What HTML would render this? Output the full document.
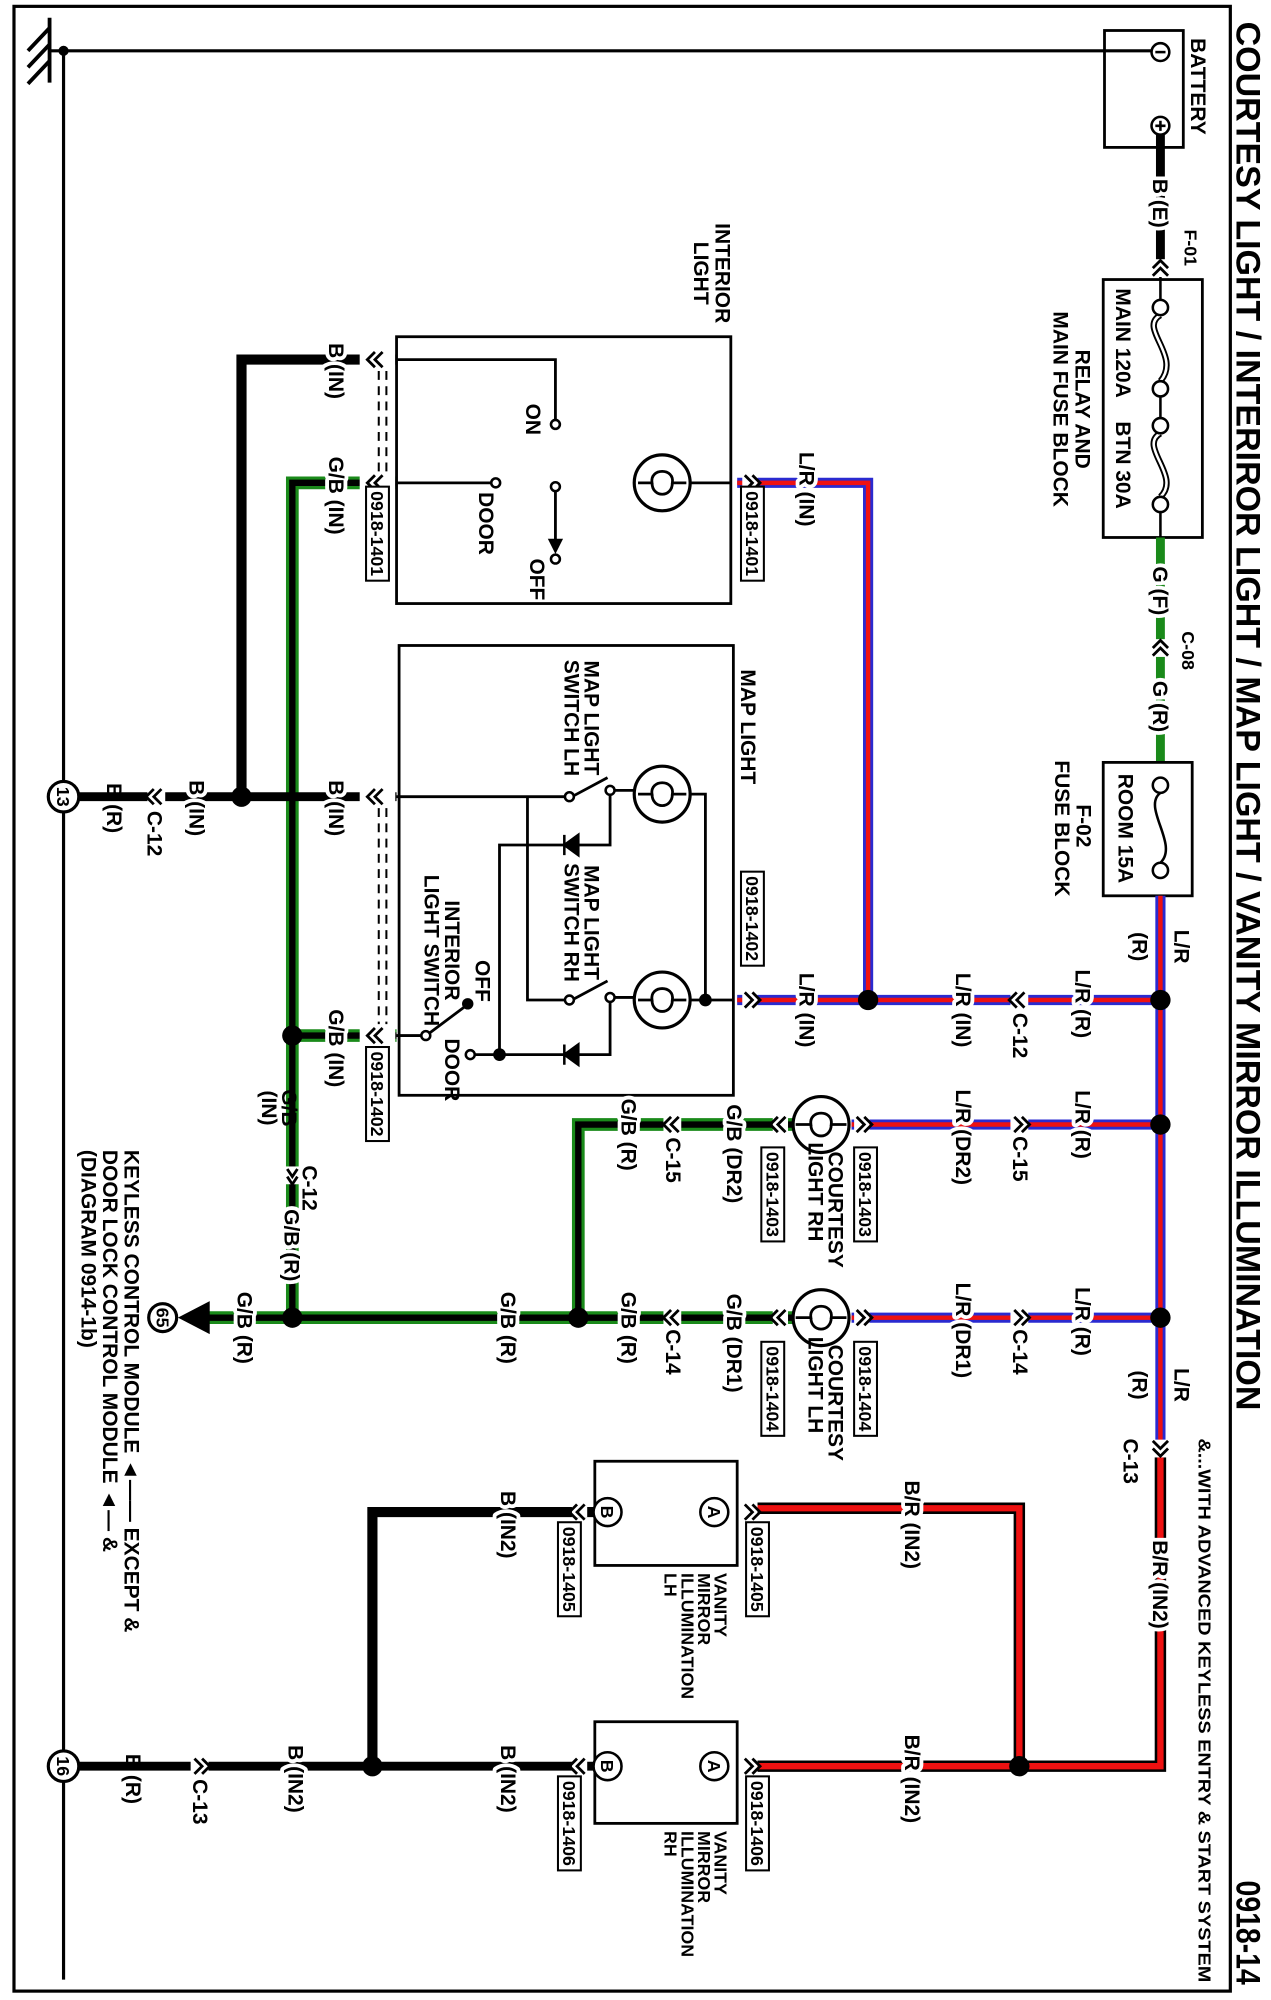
<!DOCTYPE html>
<html><head><meta charset="utf-8"><style>
html,body{margin:0;padding:0;background:#fff;}
svg{display:block;}
.t{font-family:"Liberation Sans",sans-serif;font-weight:bold;font-size:16.5px;fill:#000;}
.h{stroke:#fff;stroke-width:6px;paint-order:stroke;stroke-linejoin:round;}
.s{font-size:14px;}
.k{fill:none;stroke:#000;stroke-width:2.2;}
</style></head><body>
<svg width="1271" height="2000" viewBox="0 0 1000 1574" preserveAspectRatio="none" xmlns="http://www.w3.org/2000/svg">
<rect x="11" y="5" width="957" height="1562" fill="none" stroke="#000" stroke-width="2.5"/>
<!-- ground -->
<line x1="39" y1="14" x2="39" y2="65" stroke="#000" stroke-width="3"/>
<path d="M39,22 L22,40 M39,35 L22,53 M39,48 L22,66" stroke="#000" stroke-width="3"/>
<line x1="39" y1="40" x2="913" y2="40" stroke="#000" stroke-width="2.5"/>
<line x1="50" y1="40" x2="50" y2="1558" stroke="#000" stroke-width="2.5"/>
<circle cx="50" cy="40" r="4"/>
<!-- battery -->
<rect x="869" y="24" width="62" height="92" class="k"/>
<circle cx="913" cy="41" r="7" fill="#fff" stroke="#000" stroke-width="2"/><line x1="909" y1="41" x2="917" y2="41" stroke="#000" stroke-width="2"/>
<circle cx="913" cy="99" r="7" fill="#fff" stroke="#000" stroke-width="2"/><path d="M909,99 H917 M913,95 V103" stroke="#000" stroke-width="2"/>
<text class="t" transform="translate(937,68) rotate(90)" text-anchor="middle">BATTERY</text>
<line x1="913" y1="106" x2="913" y2="205" stroke="#000" stroke-width="7"/>
<text class="t h" transform="translate(907,160) rotate(90)" text-anchor="middle">B (E)</text>
<text class="t s" transform="translate(932,195) rotate(90)" text-anchor="middle">F-01</text>
<!-- relay main fuse block -->
<rect x="868" y="220" width="78" height="203" class="k"/>
<line x1="913" y1="200" x2="913" y2="242" stroke="#000" stroke-width="2"/>
<rect x="906" y="204" width="14" height="14" fill="#fff"/>
<path d="M907,211 L913,205 L919,211 M907,217 L913,211 L919,217" class="k" stroke-width="1.5"/>
<path d="M913,248 C895,258 930,280 913,300 M913,341 C895,351 930,375 913,391" fill="none" stroke="#000" stroke-width="5"/>
<path d="M913,248 C895,258 930,280 913,300 M913,341 C895,351 930,375 913,391" fill="none" stroke="#fff" stroke-width="2"/>
<line x1="913" y1="312" x2="913" y2="329" stroke="#000" stroke-width="2"/>
<line x1="913" y1="403" x2="913" y2="423" stroke="#000" stroke-width="2"/>
<g fill="#fff" stroke="#000" stroke-width="2"><circle cx="913" cy="242" r="6"/><circle cx="913" cy="306" r="6"/><circle cx="913" cy="335" r="6"/><circle cx="913" cy="397" r="6"/></g>
<text class="t" transform="translate(878,270) rotate(90)" text-anchor="middle">MAIN 120A</text>
<text class="t" transform="translate(878,366) rotate(90)" text-anchor="middle">BTN 30A</text>
<text class="t" transform="translate(846,322) rotate(90)" text-anchor="middle">RELAY AND</text>
<text class="t" transform="translate(829,322) rotate(90)" text-anchor="middle">MAIN FUSE BLOCK</text>
<!-- green G -->
<line x1="913" y1="423" x2="913" y2="600" stroke="#1a8a1a" stroke-width="7"/>
<text class="t h" transform="translate(907,465) rotate(90)" text-anchor="middle">G (F)</text>
<rect x="905" y="503" width="16" height="14" fill="#fff"/>
<path d="M907,510 L913,504 L919,510 M907,516 L913,510 L919,516" class="k" stroke-width="1.5"/>
<text class="t s" transform="translate(930,512) rotate(90)" text-anchor="middle">C-08</text>
<text class="t h" transform="translate(907,556) rotate(90)" text-anchor="middle">G (R)</text>
<!-- F-02 -->
<rect x="868" y="600" width="70" height="105" class="k"/>
<path d="M913,624 C898,635 928,665 913,679" fill="none" stroke="#000" stroke-width="2"/>
<g fill="#fff" stroke="#000" stroke-width="2"><circle cx="913" cy="618" r="6"/><circle cx="913" cy="685" r="6"/></g>
<text class="t" transform="translate(880,652) rotate(90)" text-anchor="middle">ROOM 15A</text>
<text class="t" transform="translate(847,650) rotate(90)" text-anchor="middle">F-02</text>
<text class="t" transform="translate(830,652) rotate(90)" text-anchor="middle">FUSE BLOCK</text>

<!-- L/R purple wires -->
<g fill="none" stroke-linejoin="miter">
<path d="M913,705 V1140 M580,787 H913 M683,787 V380 H580 M670,885 H913 M670,1037 H913" stroke="#2a2ad0" stroke-width="8"/>
<path d="M913,705 V1140 M580,787 H913 M683,787 V380 H580 M670,885 H913 M670,1037 H913" stroke="#ee1111" stroke-width="3.5"/>
</g>
<!-- B/R red wires -->
<g fill="none">
<path d="M913,1140 V1390 H590 M802,1390 V1187 H590" stroke="#000" stroke-width="9"/>
<path d="M913,1140 V1390 H590 M802,1390 V1187 H590" stroke="#ee1111" stroke-width="5"/>
</g>
<!-- G/B wires -->
<g fill="none">
<path d="M312,380 H230 V1037 M312,815 H230 M160,1037 H626 M455,1037 V885 H626" stroke="#1a8a1a" stroke-width="10"/>
<path d="M312,380 H230 V1037 M312,815 H230 M160,1037 H626 M455,1037 V885 H626" stroke="#000" stroke-width="5"/>
</g>
<!-- Black wires -->
<g fill="none" stroke="#000">
<path d="M312,283 H190 V627" stroke-width="8"/>
<path d="M50,627 H312" stroke-width="7"/>
<path d="M468,1190 H293 V1390" stroke-width="8"/>
<path d="M50,1390 H468" stroke-width="7"/>
</g>
<!-- junction dots -->
<g fill="#000">
<circle cx="190" cy="627" r="8"/><circle cx="230" cy="815" r="8"/><circle cx="230" cy="1037" r="8"/><circle cx="455" cy="1037" r="8"/>
<circle cx="683" cy="787" r="8"/><circle cx="913" cy="787" r="8"/><circle cx="913" cy="885" r="8"/><circle cx="913" cy="1037" r="8"/>
<circle cx="802" cy="1390" r="8"/><circle cx="293" cy="1390" r="8"/>
</g>

<!-- connectors -->
<g fill="#fff">
<rect x="283" y="276" width="28" height="14"/><rect x="283" y="373" width="28" height="14"/>
<rect x="283" y="620" width="28" height="14"/><rect x="283" y="808" width="28" height="14"/>
<rect x="584" y="373" width="12" height="14"/><rect x="584" y="780" width="12" height="14"/>
<rect x="795" y="780" width="14" height="14"/><rect x="795" y="878" width="14" height="14"/><rect x="795" y="1030" width="14" height="14"/>
<rect x="672" y="878" width="12" height="14"/><rect x="672" y="1030" width="12" height="14"/>
<rect x="608" y="878" width="12" height="14"/><rect x="608" y="1030" width="12" height="14"/>
<rect x="522" y="878" width="14" height="14"/><rect x="522" y="1030" width="14" height="14"/>
<rect x="116" y="620" width="14" height="14"/><rect x="223" y="918" width="14" height="14"/>
<rect x="584" y="1180" width="12" height="14"/><rect x="584" y="1383" width="12" height="14"/>
<rect x="450" y="1180" width="12" height="14"/><rect x="450" y="1383" width="12" height="14"/>
<rect x="150" y="1383" width="14" height="14"/><rect x="906" y="1133" width="14" height="14"/>
</g>
<g class="k" stroke-width="1.6">
<path d="M295,277 L289,283 L295,289 M301,277 L295,283 L301,289"/>
<path d="M295,374 L289,380 L295,386 M301,374 L295,380 L301,386"/>
<path d="M295,621 L289,627 L295,633 M301,621 L295,627 L301,633"/>
<path d="M295,809 L289,815 L295,821 M301,809 L295,815 L301,821"/>
<path d="M800,781 L794,787 L800,793 M806,781 L800,787 L806,793"/>
<path d="M121,621 L115,627 L121,633 M127,621 L121,627 L127,633"/>
<path d="M528,879 L522,885 L528,891 M534,879 L528,885 L534,891"/>
<path d="M528,1031 L522,1037 L528,1043 M534,1031 L528,1037 L534,1043"/>
<path d="M612,879 L606,885 L612,891 M618,879 L612,885 L618,891"/>
<path d="M612,1031 L606,1037 L612,1043 M618,1031 L612,1037 L618,1043"/>
<path d="M454,1184 L448,1190 L454,1196 M460,1184 L454,1190 L460,1196"/>
<path d="M454,1384 L448,1390 L454,1396 M460,1384 L454,1390 L460,1396"/>
<path d="M586,374 L592,380 L586,386 M592,374 L598,380 L592,386"/>
<path d="M586,781 L592,787 L586,793 M592,781 L598,787 L592,793"/>
<path d="M798,879 L804,885 L798,891 M804,879 L810,885 L804,891"/>
<path d="M798,1031 L804,1037 L798,1043 M804,1031 L810,1037 L804,1043"/>
<path d="M674,879 L680,885 L674,891 M680,879 L686,885 L680,891"/>
<path d="M674,1031 L680,1037 L674,1043 M680,1031 L686,1037 L680,1043"/>
<path d="M586,1184 L592,1190 L586,1196 M592,1184 L598,1190 L592,1196"/>
<path d="M586,1384 L592,1390 L586,1396 M592,1384 L598,1390 L592,1396"/>
<path d="M153,1384 L159,1390 L153,1396 M159,1384 L165,1390 L159,1396"/>
<path d="M226,920 L230,926 L234,920 M226,926 L230,932 L234,926"/>
<path d="M907,1134 L913,1140 L919,1134 M907,1140 L913,1146 L919,1140"/>
</g>
<g stroke="#000" stroke-width="1.6" stroke-dasharray="7,5">
<line x1="298" y1="292" x2="298" y2="372"/><line x1="304" y1="292" x2="304" y2="372"/>
<line x1="298" y1="636" x2="298" y2="806"/><line x1="304" y1="636" x2="304" y2="806"/>
</g>

<!-- Interior light -->
<rect x="312" y="265" width="263" height="210" class="k"/>
<path d="M312,283 H437 V330 M312,380 H388 M437,383 V430" class="k"/>
<path d="M431,424 L437,436 L443,424 Z" fill="#000"/>
<g fill="#fff" stroke="#000" stroke-width="2"><circle cx="437" cy="334" r="3.5"/><circle cx="390" cy="380" r="3.5"/><circle cx="437" cy="383" r="3.5"/><circle cx="437" cy="440" r="3.5"/></g>
<path d="M500,380 H575" class="k"/>
<circle cx="521" cy="380" r="22" fill="#fff" stroke="#000" stroke-width="2.5"/>
<path d="M502,380 H513 C511,368 531,368 529,380 H540 M513,380 C513,392 529,392 529,380" class="k"/>
<text class="t" transform="translate(414,330) rotate(90)" text-anchor="middle">ON</text>
<text class="t" transform="translate(377,412) rotate(90)" text-anchor="middle">DOOR</text>
<text class="t" transform="translate(417,456) rotate(90)" text-anchor="middle">OFF</text>
<text class="t" transform="translate(563,215) rotate(90)" text-anchor="middle">INTERIOR</text>
<text class="t" transform="translate(546,215) rotate(90)" text-anchor="middle">LIGHT</text>

<!-- Map light -->
<rect x="314" y="508" width="263" height="354" class="k"/>
<path d="M312,627 H445 M415,627 V787 H445 M480,622 H500 M540,625 H555 V787 M480,785 H500 M540,787 H577" class="k"/>
<path d="M450,627 L478,612 M450,787 L478,772" class="k"/>
<g fill="#fff" stroke="#000" stroke-width="2"><circle cx="448" cy="627" r="3.5"/><circle cx="480" cy="622" r="3.5"/><circle cx="448" cy="787" r="3.5"/><circle cx="480" cy="785" r="3.5"/><circle cx="370" cy="830" r="3.5"/><circle cx="335" cy="815" r="3.5"/></g>
<circle cx="368" cy="790" r="4.5" fill="#000"/>
<path d="M480,626 V665 H393 V830 M374,830 H480 V789" class="k"/>
<path d="M455,657 L455,673 L444,665 Z M444,657 V673" fill="#000" stroke="#000" stroke-width="2"/>
<path d="M455,822 L455,838 L444,830 Z M444,822 V838" fill="#000" stroke="#000" stroke-width="2"/>
<circle cx="393" cy="830" r="5" fill="#000"/><circle cx="555" cy="787" r="5" fill="#000"/>
<path d="M312,815 H332 M338,813 L366,792" class="k"/>
<circle cx="521" cy="625" r="22" fill="#fff" stroke="#000" stroke-width="2.5"/>
<path d="M502,625 H513 C511,613 531,613 529,625 H540 M513,625 C513,637 529,637 529,625" class="k"/>
<circle cx="521" cy="787" r="22" fill="#fff" stroke="#000" stroke-width="2.5"/>
<path d="M502,787 H513 C511,775 531,775 529,787 H540 M513,787 C513,799 529,799 529,787" class="k"/>
<text class="t" transform="translate(583,572) rotate(90)" text-anchor="middle">MAP LIGHT</text>
<text class="t" transform="translate(460,565) rotate(90)" text-anchor="middle">MAP LIGHT</text>
<text class="t" transform="translate(444,565) rotate(90)" text-anchor="middle">SWITCH LH</text>
<text class="t" transform="translate(460,726) rotate(90)" text-anchor="middle">MAP LIGHT</text>
<text class="t" transform="translate(444,726) rotate(90)" text-anchor="middle">SWITCH RH</text>
<text class="t" transform="translate(350,748) rotate(90)" text-anchor="middle">INTERIOR</text>
<text class="t" transform="translate(334,748) rotate(90)" text-anchor="middle">LIGHT SWITCH</text>
<text class="t" transform="translate(374,772) rotate(90)" text-anchor="middle">OFF</text>
<text class="t" transform="translate(350,842) rotate(90)" text-anchor="middle">DOOR</text>

<!-- Courtesy lights -->
<circle cx="646" cy="885" r="22" fill="#fff" stroke="#000" stroke-width="2.5"/>
<path d="M626,885 H638 C636,873 656,873 654,885 H666 M638,885 C638,897 654,897 654,885" class="k"/>
<circle cx="646" cy="1037" r="22" fill="#fff" stroke="#000" stroke-width="2.5"/>
<path d="M626,1037 H638 C636,1025 656,1025 654,1037 H666 M638,1037 C638,1049 654,1049 654,1037" class="k"/>
<text class="t" transform="translate(652,952) rotate(90)" text-anchor="middle">COURTESY</text>
<text class="t" transform="translate(636,938) rotate(90)" text-anchor="middle">LIGHT RH</text>
<text class="t" transform="translate(652,1104) rotate(90)" text-anchor="middle">COURTESY</text>
<text class="t" transform="translate(636,1090) rotate(90)" text-anchor="middle">LIGHT LH</text>

<!-- Vanity mirrors -->
<rect x="468" y="1150" width="112" height="82" class="k"/>
<rect x="468" y="1355" width="112" height="80" class="k"/>
<g fill="#fff" stroke="#000" stroke-width="2"><circle cx="562" cy="1190" r="11"/><circle cx="478" cy="1190" r="11"/><circle cx="562" cy="1390" r="11"/><circle cx="478" cy="1390" r="11"/></g>
<text class="t s" transform="translate(557,1190) rotate(90)" text-anchor="middle">A</text>
<text class="t s" transform="translate(473,1190) rotate(90)" text-anchor="middle">B</text>
<text class="t s" transform="translate(557,1390) rotate(90)" text-anchor="middle">A</text>
<text class="t s" transform="translate(473,1390) rotate(90)" text-anchor="middle">B</text>
<text class="t s" transform="translate(562,1238) rotate(90)">VANITY</text>
<text class="t s" transform="translate(549,1238) rotate(90)">MIRROR</text>
<text class="t s" transform="translate(536,1238) rotate(90)">ILLUMINATION</text>
<text class="t s" transform="translate(523,1238) rotate(90)">LH</text>
<text class="t s" transform="translate(562,1441) rotate(90)">VANITY</text>
<text class="t s" transform="translate(549,1441) rotate(90)">MIRROR</text>
<text class="t s" transform="translate(536,1441) rotate(90)">ILLUMINATION</text>
<text class="t s" transform="translate(523,1441) rotate(90)">RH</text>

<!-- part code boxes -->
<g fill="#fff" stroke="#000" stroke-width="1.6">
<rect x="288" y="383" width="18" height="74"/><rect x="583" y="383" width="18" height="74"/>
<rect x="583" y="686" width="18" height="74"/><rect x="288" y="824" width="18" height="74"/>
<rect x="672" y="903" width="18" height="74"/><rect x="599" y="903" width="18" height="74"/>
<rect x="672" y="1056" width="18" height="74"/><rect x="599" y="1056" width="18" height="74"/>
<rect x="587" y="1198" width="18" height="74"/><rect x="439" y="1198" width="18" height="74"/>
<rect x="587" y="1398" width="18" height="74"/><rect x="439" y="1398" width="18" height="74"/>
</g>
<g class="t s">
<text transform="translate(292,420) rotate(90)" text-anchor="middle">0918-1401</text>
<text transform="translate(587,420) rotate(90)" text-anchor="middle">0918-1401</text>
<text transform="translate(587,723) rotate(90)" text-anchor="middle">0918-1402</text>
<text transform="translate(292,861) rotate(90)" text-anchor="middle">0918-1402</text>
<text transform="translate(676,940) rotate(90)" text-anchor="middle">0918-1403</text>
<text transform="translate(603,940) rotate(90)" text-anchor="middle">0918-1403</text>
<text transform="translate(676,1093) rotate(90)" text-anchor="middle">0918-1404</text>
<text transform="translate(603,1093) rotate(90)" text-anchor="middle">0918-1404</text>
<text transform="translate(591,1235) rotate(90)" text-anchor="middle">0918-1405</text>
<text transform="translate(443,1235) rotate(90)" text-anchor="middle">0918-1405</text>
<text transform="translate(591,1435) rotate(90)" text-anchor="middle">0918-1406</text>
<text transform="translate(443,1435) rotate(90)" text-anchor="middle">0918-1406</text>
</g>

<!-- wire labels -->
<g class="t h">
<text transform="translate(629,385) rotate(90)" text-anchor="middle">L/R (IN)</text>
<text transform="translate(629,795) rotate(90)" text-anchor="middle">L/R (IN)</text>
<text transform="translate(752,795) rotate(90)" text-anchor="middle">L/R (IN)</text>
<text transform="translate(846,790) rotate(90)" text-anchor="middle">L/R (R)</text>
<text transform="translate(752,895) rotate(90)" text-anchor="middle">L/R (DR2)</text>
<text transform="translate(846,885) rotate(90)" text-anchor="middle">L/R (R)</text>
<text transform="translate(752,1047) rotate(90)" text-anchor="middle">L/R (DR1)</text>
<text transform="translate(846,1040) rotate(90)" text-anchor="middle">L/R (R)</text>
<text transform="translate(907,1247) rotate(90)" text-anchor="middle">B/R (IN2)</text>
<text transform="translate(712,1200) rotate(90)" text-anchor="middle">B/R (IN2)</text>
<text transform="translate(712,1400) rotate(90)" text-anchor="middle">B/R (IN2)</text>
<text transform="translate(259,292) rotate(90)" text-anchor="middle">B (IN)</text>
<text transform="translate(259,390) rotate(90)" text-anchor="middle">G/B (IN)</text>
<text transform="translate(259,636) rotate(90)" text-anchor="middle">B (IN)</text>
<text transform="translate(259,825) rotate(90)" text-anchor="middle">G/B (IN)</text>
<text transform="translate(149,636) rotate(90)" text-anchor="middle">B (IN)</text>
<text transform="translate(224,980) rotate(90)" text-anchor="middle">G/B (R)</text>
<text transform="translate(187,1045) rotate(90)" text-anchor="middle">G/B (R)</text>
<text transform="translate(394,1045) rotate(90)" text-anchor="middle">G/B (R)</text>
<text transform="translate(489,1045) rotate(90)" text-anchor="middle">G/B (R)</text>
<text transform="translate(572,1057) rotate(90)" text-anchor="middle">G/B (DR1)</text>
<text transform="translate(489,893) rotate(90)" text-anchor="middle">G/B (R)</text>
<text transform="translate(572,908) rotate(90)" text-anchor="middle">G/B (DR2)</text>
<text transform="translate(394,1200) rotate(90)" text-anchor="middle">B (IN2)</text>
<text transform="translate(394,1400) rotate(90)" text-anchor="middle">B (IN2)</text>
<text transform="translate(227,1400) rotate(90)" text-anchor="middle">B (IN2)</text>
</g>
<g class="t">
<text transform="translate(84,636) rotate(90)" text-anchor="middle">B (R)</text>
<text transform="translate(99,1400) rotate(90)" text-anchor="middle">B (R)</text>
<text transform="translate(152,1418) rotate(90)" text-anchor="middle">C-13</text>
<text transform="translate(116,656) rotate(90)" text-anchor="middle">C-12</text>
<text transform="translate(797,815) rotate(90)" text-anchor="middle">C-12</text>
<text transform="translate(797,912) rotate(90)" text-anchor="middle">C-15</text>
<text transform="translate(797,1064) rotate(90)" text-anchor="middle">C-14</text>
<text transform="translate(524,913) rotate(90)" text-anchor="middle">C-15</text>
<text transform="translate(524,1064) rotate(90)" text-anchor="middle">C-14</text>
<text transform="translate(238,935) rotate(90)" text-anchor="middle">C-12</text>
<text transform="translate(222,872) rotate(90)" text-anchor="middle">G/B</text>
<text transform="translate(206,872) rotate(90)" text-anchor="middle">(IN)</text>
<text transform="translate(884,1150) rotate(90)" text-anchor="middle">C-13</text>
<text transform="translate(924,745) rotate(90)" text-anchor="middle">L/R</text>
<text transform="translate(891,745) rotate(90)" text-anchor="middle">(R)</text>
<text transform="translate(924,1090) rotate(90)" text-anchor="middle">L/R</text>
<text transform="translate(891,1090) rotate(90)" text-anchor="middle">(R)</text>
</g>

<!-- ground nodes -->
<g fill="#fff" stroke="#000" stroke-width="2.5">
<circle cx="50" cy="627" r="12"/><circle cx="50" cy="1390" r="12"/><circle cx="128" cy="1037" r="11"/>
</g>
<text class="t s" transform="translate(45,627) rotate(90)" text-anchor="middle">13</text>
<text class="t s" transform="translate(45,1390) rotate(90)" text-anchor="middle">16</text>
<text class="t s" transform="translate(123,1037) rotate(90)" text-anchor="middle">65</text>
<path d="M140,1037 L165,1024 L165,1050 Z" fill="#000"/>

<!-- keyless note -->
<text class="t" transform="translate(98,905) rotate(90)">KEYLESS CONTROL MODULE ◄—— EXCEPT &amp;</text>
<text class="t" transform="translate(81,905) rotate(90)">DOOR LOCK CONTROL MODULE ◄— &amp;</text>
<text class="t" transform="translate(64,905) rotate(90)">(DIAGRAM 0914-1b)</text>

<!-- titles -->
<text class="t" style="font-size:27px" transform="translate(973,17) rotate(90)" textLength="1093" lengthAdjust="spacingAndGlyphs">COURTESY LIGHT / INTERIROR LIGHT / MAP LIGHT / VANITY MIRROR ILLUMINATION</text>
<text class="t" style="font-size:27px" transform="translate(973,1480) rotate(90)" textLength="82" lengthAdjust="spacingAndGlyphs">0918-14</text>
<text class="t s" transform="translate(943,1132) rotate(90)" textLength="428" lengthAdjust="spacingAndGlyphs">&amp;...WITH ADVANCED KEYLESS ENTRY &amp; START SYSTEM</text>
</svg>
</body></html>
